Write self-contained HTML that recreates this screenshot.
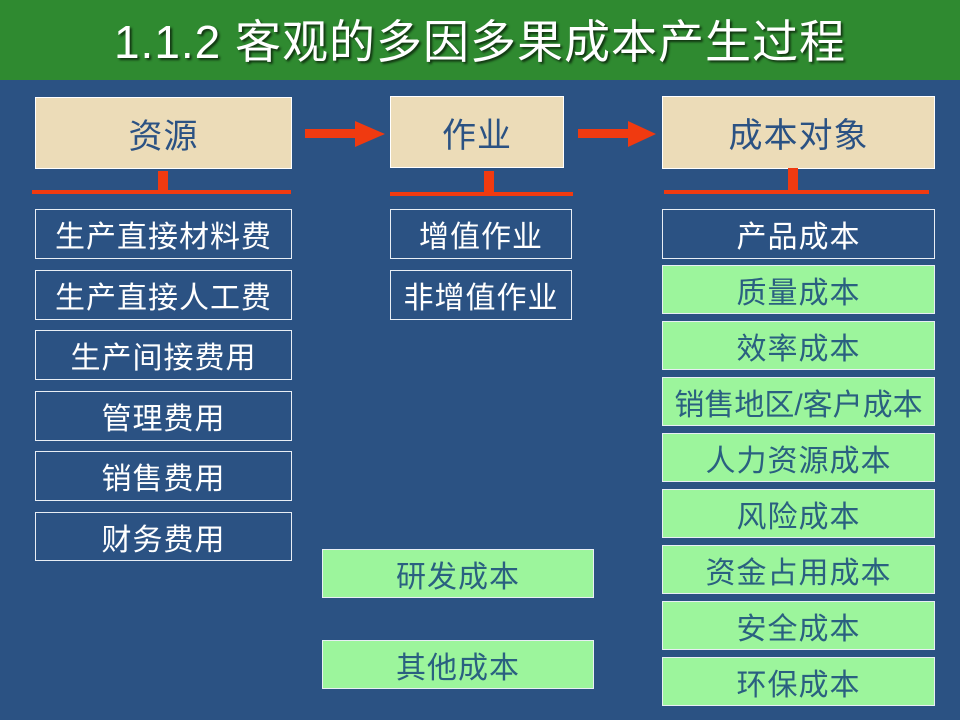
<!DOCTYPE html>
<html><head><meta charset="utf-8"><style>
*{margin:0;padding:0;box-sizing:border-box}
body{width:960px;height:720px;background:#2b5283;position:relative;overflow:hidden;font-family:"Liberation Sans","Noto Sans CJK SC",sans-serif}
.hdr{position:absolute;left:0;top:0;width:960px;height:80px;background:#2f8a30;color:#fff;font-size:46px;letter-spacing:1px;text-align:center;line-height:84px;text-shadow:2px 2px 2px #113311}
.b{position:absolute;border:1.5px solid #e8eef5;color:#fff;font-size:30px;text-align:center;display:flex;align-items:center;justify-content:center;white-space:nowrap;letter-spacing:1px}
.t{background:#ecdcb8;color:#2b5283;font-size:34px;border:1.5px solid #fff}
.g{background:#9cf59c;color:#2a6080}
.r{position:absolute;background:#f03a10}
</style></head><body>
<div class="hdr">1.1.2 客观的多因多果成本产生过程</div>
<div class="b t" style="left:35px;top:97px;width:257px;height:72px">资源</div>
<div class="b t" style="left:390px;top:96px;width:174px;height:72px">作业</div>
<div class="b t" style="left:662px;top:96px;width:273px;height:73px">成本对象</div>
<div class="r" style="left:305px;top:129px;width:55px;height:9px"></div>
<svg style="position:absolute;left:355px;top:121px" width="30" height="26"><polygon points="0,0 30,13 0,26" fill="#f03a10"/></svg>
<div class="r" style="left:578px;top:129px;width:55px;height:9px"></div>
<svg style="position:absolute;left:628px;top:121px" width="28" height="26"><polygon points="0,0 28,13 0,26" fill="#f03a10"/></svg>
<div class="r" style="left:32px;top:190px;width:259px;height:4px"></div>
<div class="r" style="left:158px;top:171px;width:10px;height:21px"></div>
<div class="r" style="left:390px;top:192px;width:183px;height:4px"></div>
<div class="r" style="left:484px;top:171px;width:10px;height:23px"></div>
<div class="r" style="left:664px;top:190px;width:265px;height:4px"></div>
<div class="r" style="left:788px;top:168px;width:10px;height:24px"></div>
<div class="b" style="left:35px;top:209px;width:257px;height:50px">生产直接材料费</div>
<div class="b" style="left:35px;top:270px;width:257px;height:50px">生产直接人工费</div>
<div class="b" style="left:35px;top:330px;width:257px;height:50px">生产间接费用</div>
<div class="b" style="left:35px;top:391px;width:257px;height:50px">管理费用</div>
<div class="b" style="left:35px;top:451px;width:257px;height:50px">销售费用</div>
<div class="b" style="left:35px;top:512px;width:257px;height:49px">财务费用</div>
<div class="b" style="left:390px;top:209px;width:182px;height:50px">增值作业</div>
<div class="b" style="left:390px;top:270px;width:182px;height:50px">非增值作业</div>
<div class="b g" style="left:322px;top:549px;width:272px;height:49px">研发成本</div>
<div class="b g" style="left:322px;top:640px;width:272px;height:49px">其他成本</div>
<div class="b" style="left:662px;top:209px;width:273px;height:50px">产品成本</div>
<div class="b g" style="left:662px;top:265px;width:273px;height:49px">质量成本</div>
<div class="b g" style="left:662px;top:321px;width:273px;height:49px">效率成本</div>
<div class="b g" style="left:662px;top:377px;width:273px;height:49px;letter-spacing:0">销售地区/客户成本</div>
<div class="b g" style="left:662px;top:433px;width:273px;height:49px">人力资源成本</div>
<div class="b g" style="left:662px;top:489px;width:273px;height:49px">风险成本</div>
<div class="b g" style="left:662px;top:545px;width:273px;height:49px">资金占用成本</div>
<div class="b g" style="left:662px;top:601px;width:273px;height:49px">安全成本</div>
<div class="b g" style="left:662px;top:657px;width:273px;height:49px">环保成本</div>
</body></html>
